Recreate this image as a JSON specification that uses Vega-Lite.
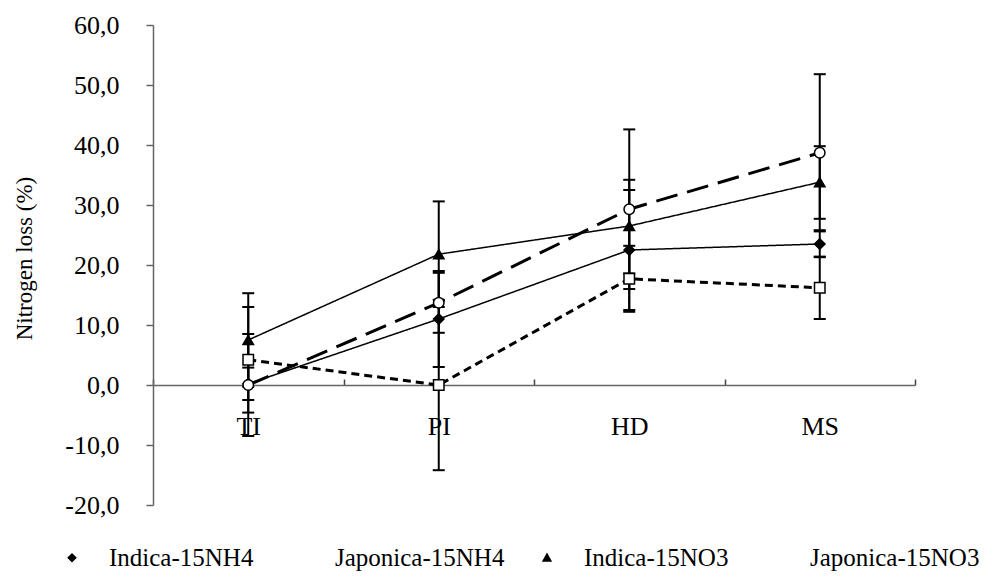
{
  "$schema": "https://vega.github.io/schema/vega-lite/v6.json",
  "width": 762,
  "height": 480,
  "autosize": {"type": "none"},
  "padding": {"left": 153, "top": 25, "right": 85, "bottom": 75},
  "background": "white",
  "config": {"view": {"stroke": null}, "font": "Liberation Serif"},
  "data": {
    "values": [
      {"stage": "TI", "series": "Indica-15NH4", "value": 0.2, "lo": -2.5, "hi": 2.9},
      {"stage": "TI", "series": "Japonica-15NH4", "value": 4.2, "lo": -4.6, "hi": 13.0},
      {"stage": "TI", "series": "Indica-15NO3", "value": 7.5, "lo": -0.3, "hi": 15.3},
      {"stage": "TI", "series": "Japonica-15NO3", "value": 0.0, "lo": -8.5, "hi": 8.5},
      {"stage": "PI", "series": "Indica-15NH4", "value": 11.0, "lo": 3.0, "hi": 19.0},
      {"stage": "PI", "series": "Japonica-15NH4", "value": 0.0, "lo": -14.2, "hi": 14.2},
      {"stage": "PI", "series": "Indica-15NO3", "value": 21.8, "lo": 13.0, "hi": 30.6},
      {"stage": "PI", "series": "Japonica-15NO3", "value": 13.7, "lo": 8.7, "hi": 18.7},
      {"stage": "HD", "series": "Indica-15NH4", "value": 22.5, "lo": 12.5, "hi": 32.5},
      {"stage": "HD", "series": "Japonica-15NH4", "value": 17.7, "lo": 12.2, "hi": 23.2},
      {"stage": "HD", "series": "Indica-15NO3", "value": 26.5, "lo": 18.6, "hi": 34.2},
      {"stage": "HD", "series": "Japonica-15NO3", "value": 29.3, "lo": 16.0, "hi": 42.6},
      {"stage": "MS", "series": "Indica-15NH4", "value": 23.5, "lo": 21.3, "hi": 25.8},
      {"stage": "MS", "series": "Japonica-15NH4", "value": 16.2, "lo": 11.0, "hi": 21.4},
      {"stage": "MS", "series": "Indica-15NO3", "value": 33.8, "lo": 27.7, "hi": 39.8},
      {"stage": "MS", "series": "Japonica-15NO3", "value": 38.7, "lo": 25.6, "hi": 51.8}
    ]
  },
  "encoding": {
    "x": {
      "field": "stage",
      "type": "nominal",
      "sort": ["TI", "PI", "HD", "MS"],
      "scale": {"type": "band", "paddingInner": 0, "paddingOuter": 0},
      "axis": {
        "title": null,
        "orient": "top",
        "offset": -360,
        "labelAngle": 0,
        "labelFontSize": 26,
        "labelFont": "Liberation Serif",
        "labelColor": "black",
        "labelBaseline": "bottom",
        "tickBand": "extent",
        "tickSize": 6,
        "tickColor": "#444",
        "tickWidth": 1.5,
        "domainColor": "#666",
        "domainWidth": 1.5,
        "labelPadding": -60,
        "zindex": 0
      }
    }
  },
  "resolve": {"scale": {"shape": "independent", "fill": "independent", "strokeWidth": "independent"}},
  "layer": [
    {
      "mark": {"type": "rule", "color": "black", "strokeWidth": 2},
      "encoding": {
        "y": {
          "field": "lo",
          "type": "quantitative",
          "scale": {"domain": [-20, 60], "nice": false, "zero": false},
          "axis": {
            "title": "Nitrogen loss (%)",
            "values": [-20, -10, 0, 10, 20, 30, 40, 50, 60],
            "labelExpr": "(datum.value < 0 ? '-' : '') + abs(datum.value) + ',0'",
            "labelFontSize": 26,
            "labelFont": "Liberation Serif",
            "labelColor": "black",
            "labelPadding": 27,
            "tickSize": 7,
            "tickColor": "#666",
            "tickWidth": 1.5,
            "domainColor": "#666",
            "domainWidth": 1.5,
            "grid": false,
            "titleFontSize": 23,
            "titleFont": "Liberation Serif",
            "titleFontWeight": "normal",
            "titleColor": "black",
            "titleX": -117,
            "titleY": 233,
            "titleAlign": "center"
          }
        },
        "y2": {"field": "hi"}
      }
    },
    {
      "mark": {"type": "tick", "orient": "horizontal", "size": 12, "thickness": 2, "color": "black", "opacity": 1},
      "encoding": {"y": {"field": "lo", "type": "quantitative"}}
    },
    {
      "mark": {"type": "tick", "orient": "horizontal", "size": 12, "thickness": 2, "color": "black", "opacity": 1},
      "encoding": {"y": {"field": "hi", "type": "quantitative"}}
    },
    {
      "mark": {"type": "line", "color": "black"},
      "encoding": {
        "y": {"field": "value", "type": "quantitative"},
        "strokeDash": {
          "field": "series",
          "type": "nominal",
          "scale": {
            "domain": ["Indica-15NH4", "Indica-15NO3", "Japonica-15NH4", "Japonica-15NO3"],
            "range": [[1, 0], [1, 0], [8, 5], [22, 10]]
          },
          "legend": null
        },
        "strokeWidth": {
          "field": "series",
          "type": "nominal",
          "scale": {
            "type": "ordinal",
            "domain": ["Indica-15NH4", "Indica-15NO3", "Japonica-15NH4", "Japonica-15NO3"],
            "range": [1.5, 1.5, 3, 3]
          },
          "legend": null
        },
        "order": {"value": null}
      }
    },
    {
      "mark": {"type": "point", "filled": true, "opacity": 1, "stroke": "black", "size": 16},
      "encoding": {
        "y": {"field": "value", "type": "quantitative"},
        "shape": {
          "field": "series",
          "type": "nominal",
          "scale": {
            "domain": ["Indica-15NH4", "Japonica-15NH4", "Indica-15NO3", "Japonica-15NO3"],
            "range": [
              "M-1,0H1M0,-0.17L0.17,0L0,0.17L-0.17,0Z",
              "M-1,0H-0.84M-0.7,0H-0.52M-0.38,0H-0.18M-0.17,-0.17H0.17V0.17H-0.17ZM0.18,0H0.38M0.52,0H0.7M0.84,0H1",
              "M-1,0H1M0,-0.18L0.18,0.14L-0.18,0.14Z",
              "M-1,0H-0.12M-0.12,0A0.16,0.16 0 1,1 0.2,0A0.16,0.16 0 1,1 -0.12,0Z"
            ]
          },
          "legend": {
            "orient": "none",
            "legendX": -111,
            "legendY": 503,
            "direction": "horizontal",
            "columns": 4,
            "title": null,
            "symbolSize": 3249,
            "symbolOpacity": 1,
            "labelFontSize": 25,
            "labelFont": "Liberation Serif",
            "labelColor": "black",
            "labelOffset": 7,
            "labelLimit": 0,
            "columnPadding": 10,
            "symbolStrokeColor": "black"
          }
        },
        "fill": {
          "field": "series",
          "type": "nominal",
          "scale": {
            "domain": ["Indica-15NH4", "Japonica-15NH4", "Indica-15NO3", "Japonica-15NO3"],
            "range": ["black", "white", "black", "white"]
          }
        },
        "strokeWidth": {
          "field": "series",
          "type": "nominal",
          "scale": {
            "type": "ordinal",
            "domain": ["Indica-15NH4", "Japonica-15NH4", "Indica-15NO3", "Japonica-15NO3"],
            "range": [1.5, 2.5, 1.5, 2.5]
          }
        }
      }
    },
    {
      "mark": {"type": "point", "filled": true, "opacity": 1, "stroke": "black", "strokeWidth": 1.5, "size": 110},
      "encoding": {
        "y": {"field": "value", "type": "quantitative"},
        "shape": {
          "field": "series",
          "type": "nominal",
          "scale": {
            "domain": ["Indica-15NH4", "Indica-15NO3", "Japonica-15NH4", "Japonica-15NO3"],
            "range": ["diamond", "triangle-up", "square", "circle"]
          },
          "legend": null
        },
        "fill": {
          "field": "series",
          "type": "nominal",
          "scale": {
            "domain": ["Indica-15NH4", "Indica-15NO3", "Japonica-15NH4", "Japonica-15NO3"],
            "range": ["black", "black", "white", "white"]
          },
          "legend": null
        }
      }
    }
  ]
}
